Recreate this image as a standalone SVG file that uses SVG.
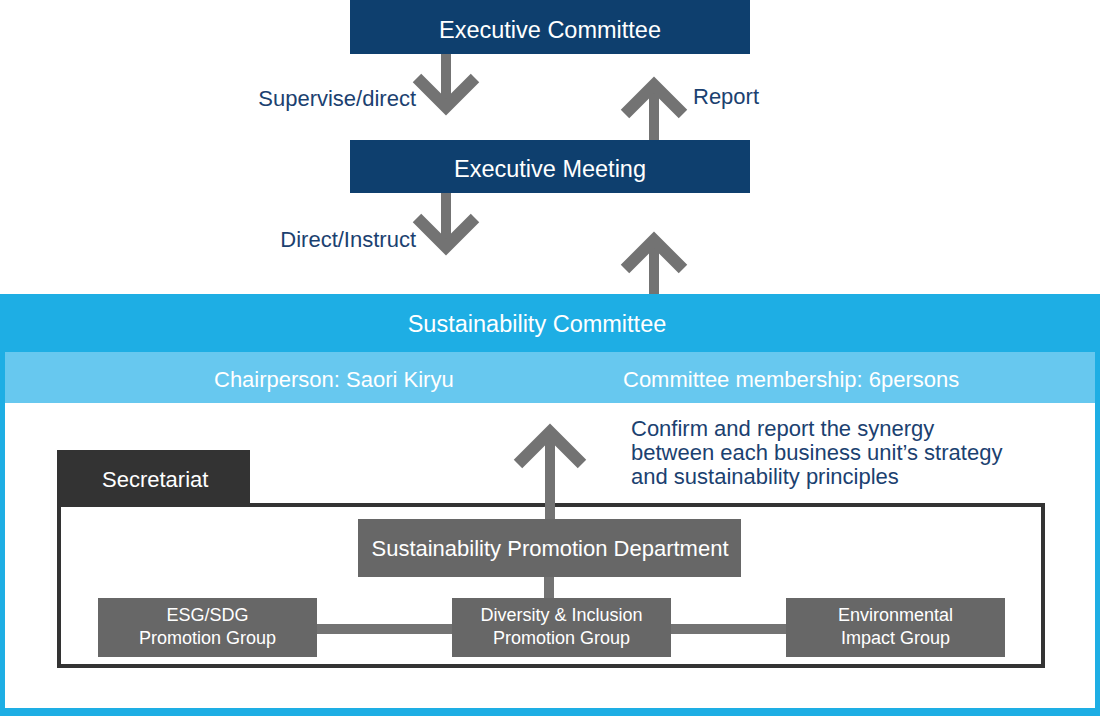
<svg xmlns="http://www.w3.org/2000/svg" width="1100" height="716" viewBox="0 0 1100 716">
<style>
  .navy{fill:#0e3f6e}
  .gray{fill:#676767}
  .t{font-family:"Liberation Sans",Arial,Helvetica,sans-serif}
  .wt{fill:#ffffff}
  .lbl{fill:#1b4170;font-size:22px}
  .arr{fill:none;stroke:#737373;stroke-width:12;stroke-linejoin:miter;stroke-miterlimit:10}
  .shaft{stroke:#737373;stroke-width:10}
  .conn{stroke:#737373;stroke-width:10}
</style>
<rect width="1100" height="716" fill="#ffffff"/>

<g id="sustainability-committee">
  <rect x="0" y="294" width="1100" height="422" fill="#1eaee4"/>
  <rect x="5" y="352" width="1090" height="51" fill="#67c8ef"/>
  <rect x="5" y="403" width="1090" height="305" fill="#ffffff"/>
  <text class="t wt" x="537" y="332" font-size="23.5" text-anchor="middle">Sustainability Committee</text>
  <text class="t wt" x="214" y="387" font-size="22">Chairperson: Saori Kiryu</text>
  <text class="t wt" x="623" y="387" font-size="22">Committee membership: 6persons</text>
</g>

<g id="secretariat">
  <rect x="57" y="450" width="193" height="55" fill="#333333"/>
  <rect x="59" y="505" width="984" height="161" fill="none" stroke="#333333" stroke-width="4"/>
  <text class="t wt" x="102" y="487" font-size="22">Secretariat</text>
</g>

<g id="connectors">
  <!-- Supervise/direct -->
  <line class="shaft" x1="446" y1="54" x2="446" y2="104"/>
  <polyline class="arr" points="417,78 446,107 475,78"/>
  <!-- Report -->
  <line class="shaft" x1="654" y1="140" x2="654" y2="88"/>
  <polyline class="arr" points="625,114 654,85 683,114"/>
  <!-- Direct/Instruct -->
  <line class="shaft" x1="446" y1="193" x2="446" y2="244"/>
  <polyline class="arr" points="417,218 446,247 475,218"/>
  <!-- Up to Executive Meeting -->
  <line class="shaft" x1="654" y1="294" x2="654" y2="243"/>
  <polyline class="arr" points="625,269 654,240 683,269"/>
  <!-- Up from Sustainability Promotion Department -->
  <line class="shaft" x1="550" y1="520" x2="550" y2="436"/>
  <polyline class="arr" points="518,464 550,432 582,464"/>
  <!-- Dept to groups -->
  <line class="conn" x1="549" y1="576" x2="549" y2="599"/>
  <line class="conn" x1="316" y1="629" x2="787" y2="629"/>
</g>

<g id="executive-committee">
  <rect class="navy" x="350" y="0" width="400" height="54"/>
  <text class="t wt" x="550" y="38" font-size="23.5" text-anchor="middle">Executive Committee</text>
</g>

<g id="executive-meeting">
  <rect class="navy" x="350" y="140" width="400" height="53"/>
  <text class="t wt" x="550" y="177" font-size="23.5" text-anchor="middle">Executive Meeting</text>
</g>

<g id="labels">
  <text class="t lbl" x="416" y="106" text-anchor="end">Supervise/direct</text>
  <text class="t lbl" x="693" y="104">Report</text>
  <text class="t lbl" x="416" y="247" text-anchor="end">Direct/Instruct</text>
  <text class="t lbl" x="631" y="436">Confirm and report the synergy</text>
  <text class="t lbl" x="631" y="460">between each business unit’s strategy</text>
  <text class="t lbl" x="631" y="484">and sustainability principles</text>
</g>

<g id="sustainability-promotion-department">
  <rect class="gray" x="358" y="519" width="383" height="58"/>
  <text class="t wt" x="550" y="556" font-size="22" text-anchor="middle">Sustainability Promotion Department</text>
</g>

<g id="esg-sdg-group">
  <rect class="gray" x="98" y="598" width="219" height="59"/>
  <text class="t wt" x="207.5" y="621" font-size="18" text-anchor="middle">ESG/SDG</text>
  <text class="t wt" x="207.5" y="644" font-size="18" text-anchor="middle">Promotion Group</text>
</g>

<g id="diversity-inclusion-group">
  <rect class="gray" x="452" y="598" width="219" height="59"/>
  <text class="t wt" x="561.5" y="621" font-size="18" text-anchor="middle">Diversity &amp; Inclusion</text>
  <text class="t wt" x="561.5" y="644" font-size="18" text-anchor="middle">Promotion Group</text>
</g>

<g id="environmental-impact-group">
  <rect class="gray" x="786" y="598" width="219" height="59"/>
  <text class="t wt" x="895.5" y="621" font-size="18" text-anchor="middle">Environmental</text>
  <text class="t wt" x="895.5" y="644" font-size="18" text-anchor="middle">Impact Group</text>
</g>
</svg>
